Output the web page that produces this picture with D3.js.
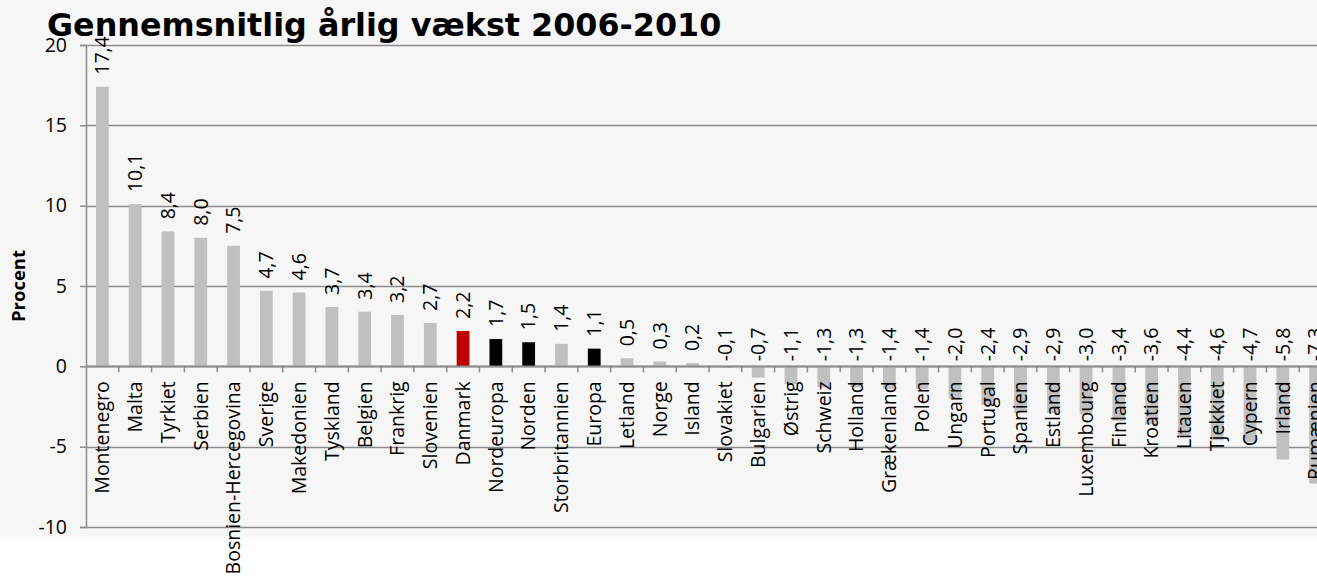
<!DOCTYPE html>
<html>
<head>
<meta charset="utf-8">
<script src="https://cdn.jsdelivr.net/npm/d3@7"></script>
<style>
    body { margin: 0; background: #ffffff; }
    #chart-container { width: 1317px; height: 576px; overflow: hidden; }
</style>
</head>
<body>
<div id="chart-container"></div>
<script>
const countries = ["Montenegro", "Malta", "Tyrkiet", "Serbien", "Bosnien-Hercegovina", "Sverige", "Makedonien",
    "Tyskland", "Belgien", "Frankrig", "Slovenien", "Danmark", "Nordeuropa", "Norden", "Storbritannien", "Europa",
    "Letland", "Norge", "Island", "Slovakiet", "Bulgarien", "Østrig", "Schweiz", "Holland", "Grækenland", "Polen",
    "Ungarn", "Portugal", "Spanien", "Estland", "Luxembourg", "Finland", "Kroatien", "Litauen", "Tjekkiet",
    "Cypern", "Irland", "Rumænien"]
const growth = [17.4, 10.1, 8.4, 8.0, 7.5, 4.7, 4.6, 3.7, 3.4, 3.2, 2.7, 2.2, 1.7, 1.5, 1.4, 1.1, 0.5, 0.3, 0.2,
    -0.1, -0.7, -1.1, -1.3, -1.3, -1.4, -1.4, -2.0, -2.4, -2.9, -2.9, -3.0, -3.4, -3.6, -4.4, -4.6, -4.7, -5.8, -7.3]
const redBars = ["Danmark"]
const blackBars = ["Nordeuropa", "Norden", "Europa"]
const yTicks = [-10, -5, 0, 5, 10, 15, 20]

const data = countries.map((c, i) => ({name: c, value: growth[i]}))

const margin = {top: 45, right: 0, bottom: 49, left: 86};
const width = 1246;
const height = 527 - margin.top;
const labelFont = 19.5

// comma decimals, plain hyphen minus
const fmt = v => d3.format(".1f")(v).replace(".", ",").replace("−", "-")

const svg = d3.select("#chart-container")
    .append("svg")
        .attr("width", 1317)
        .attr("height", 576)

// grey chart area, white below
svg.append("rect")
    .attr("width", 1317).attr("height", 537)
    .attr("fill", "#f6f6f6")

const g = svg.append("g")
    .attr("transform", `translate(${margin.left}, ${margin.top})`)

const x = d3.scaleBand()
    .domain(countries)
    .range([0, width])
    .paddingInner(0.61)
    .paddingOuter(0.305)
const y = d3.scaleLinear()
    .domain([-10, 20])
    .range([height, 0])

const gap = x.step() - x.bandwidth()

// gridlines
g.selectAll(".grid")
    .data(yTicks)
    .enter().append("line")
    .attr("x1", 0).attr("x2", width)
    .attr("y1", d => Math.round(y(d)) + 0.5)
    .attr("y2", d => Math.round(y(d)) + 0.5)
    .attr("stroke", "#8c8c8c")
    .attr("stroke-width", 1.5)

// y axis
const yAxis = g.append("g")
    .call(d3.axisLeft(y).tickValues(yTicks).tickSize(6).tickPadding(13).tickFormat(d => String(d)))
yAxis.select(".domain").attr("stroke", "#8c8c8c").attr("stroke-width", 1.5)
yAxis.selectAll(".tick line").attr("stroke", "#8c8c8c").attr("stroke-width", 1.5)
yAxis.selectAll("text")
    .attr("font-family", "Open Sans")
    .attr("font-size", labelFont)
    .attr("fill", "#000")

// bars
g.selectAll(".bar")
    .data(data)
    .enter().append("rect")
    .attr("x", d => x(d.name))
    .attr("width", x.bandwidth())
    .attr("y", d => y(Math.max(d.value, 0)))
    .attr("height", d => Math.abs(y(d.value) - y(0)))
    .attr("fill", d => redBars.includes(d.name) ? "#c00000" : blackBars.includes(d.name) ? "#000000" : "#c0c0c0")

// x axis line + ticks at band edges
g.append("line")
    .attr("x1", 0).attr("x2", width)
    .attr("y1", Math.round(y(0)) + 0.5).attr("y2", Math.round(y(0)) + 0.5)
    .attr("stroke", "#8c8c8c").attr("stroke-width", 2)
g.selectAll(".xtick")
    .data(countries.slice(1))
    .enter().append("line")
    .attr("x1", d => x(d) - gap / 2)
    .attr("x2", d => x(d) - gap / 2)
    .attr("y1", y(0)).attr("y2", y(0) + 6)
    .attr("stroke", "#8c8c8c").attr("stroke-width", 1.5)

// value labels
g.selectAll(".valueLabel")
    .data(data)
    .enter().append("text")
    .attr("transform", d => {
        const cx = x(d.name) + x.bandwidth() / 2
        const yy = d.value >= 0 ? y(d.value) - 12 : y(0) - 5
        return `translate(${cx}, ${yy}) rotate(-90)`
    })
    .attr("dy", "0.35em")
    .attr("font-family", "Open Sans")
    .attr("font-size", labelFont)
    .attr("fill", "#000")
    .text(d => fmt(d.value))

// category labels
g.selectAll(".catLabel")
    .data(data)
    .enter().append("text")
    .attr("transform", d => `translate(${x(d.name) + x.bandwidth() / 2}, ${y(0) + 15}) rotate(-90)`)
    .attr("dy", "0.35em")
    .attr("text-anchor", "end")
    .attr("font-family", "Open Sans")
    .attr("font-size", labelFont)
    .attr("fill", "#000")
    .text(d => d.name)

svg.append("text")
    .attr("transform", `translate(19, ${margin.top + height / 2}) rotate(-90)`)
    .attr("text-anchor", "middle")
    .attr("dy", "0.35em")
    .attr("font-family", "Open Sans")
    .attr("font-weight", "bold")
    .attr("font-size", 18.5)
    .attr("fill", "#000")
    .text("Procent")

svg.append("text")
    .attr("x", 47).attr("y", 36)
    .attr("font-family", "DejaVu Sans")
    .attr("font-weight", "bold")
    .attr("font-size", 31.8)
    .attr("fill", "#000")
    .text("Gennemsnitlig årlig vækst 2006-2010")
</script>
</body>
</html>
